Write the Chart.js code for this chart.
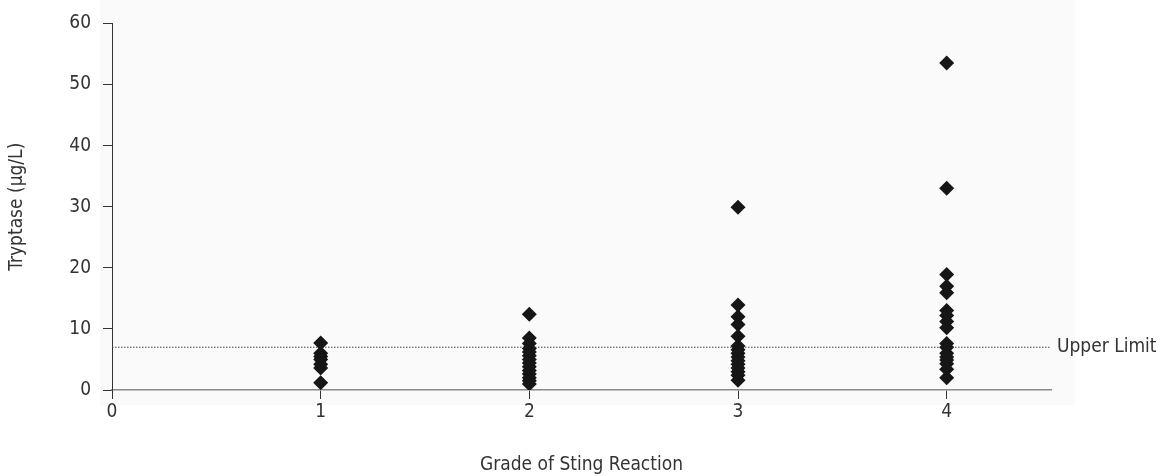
<!DOCTYPE html>
<html>
<head>
<meta charset="utf-8">
<script src="https://cdn.jsdelivr.net/npm/chart.js@4"></script>
<style>
  html, body { margin: 0; padding: 0; background: #fff; }
  #wrap { width: 1162px; height: 476px; position: relative; }
</style>
</head>
<body>
<div id="wrap"><canvas id="myChart"></canvas></div>
<script>
const grades = [1, 2, 3, 4];
// tryptase values read per grade
const grade1 = [7.7, 6.0, 5.5, 5.0, 4.2, 3.6, 1.2];
const grade2 = [12.4, 8.5, 7.6, 6.8, 6.2, 5.6, 5.0, 4.4, 3.8, 3.2, 2.6, 2.0, 1.5, 1.0];
const grade3 = [29.9, 13.9, 12.0, 10.7, 8.8, 7.2, 6.6, 6.0, 5.4, 4.8, 4.2, 3.6, 3.0, 2.4, 1.6];
const grade4 = [53.5, 33.0, 18.9, 17.0, 15.9, 13.0, 12.2, 11.2, 10.2, 7.6, 7.0, 6.0, 5.4, 4.9, 4.3, 3.4, 2.0];
const upperLimit = 7;
const yTicks = [0, 10, 20, 30, 40, 50, 60];
const xTicks = [0, 1, 2, 3, 4];

const FONT = "'DejaVu Sans Condensed', 'Liberation Sans Narrow', sans-serif";
const INK = "#333";

const points = [];
[grade1, grade2, grade3, grade4].forEach((vals, i) => {
  vals.forEach((v) => points.push({ x: grades[i], y: v }));
});

// faint panel behind the plot + "Upper Limit" text
const extras = {
  id: "extras",
  beforeDraw(chart) {
    const c = chart.ctx;
    c.save();
    c.fillStyle = "#fafafa";
    c.fillRect(100, 0, 975, 405);
    c.restore();
  },
  afterDatasetsDraw(chart) {
    const c = chart.ctx;
    const y = chart.scales.y.getPixelForValue(upperLimit);
    const x = chart.scales.x.getPixelForValue(4.5);
    c.save();
    c.font = "19px " + FONT;
    c.fillStyle = INK;
    c.textBaseline = "middle";
    c.fillText("Upper Limit", x + 6, y);
    c.restore();
  },
};

const ctx = document.getElementById("myChart").getContext("2d");

const config = {
  type: "scatter",
  data: {
    datasets: [
      {
        // measured tryptase
        data: points,
        pointStyle: "rectRot",
        radius: 7.5,
        hoverRadius: 7.5,
        backgroundColor: "#161616",
        borderColor: "#161616",
        borderWidth: 0,
      },
      {
        // upper limit reference line
        type: "line",
        data: [
          { x: 0, y: upperLimit },
          { x: 4.5, y: upperLimit },
        ],
        borderColor: "#444",
        borderWidth: 1,
        borderDash: [1.5, 1.5],
        pointRadius: 0,
        fill: false,
      },
    ],
  },
  options: {
    responsive: true,
    maintainAspectRatio: false,
    animation: false,
    layout: { padding: { top: 22, right: 111, bottom: 0, left: 0 } },
    plugins: { legend: { display: false }, tooltip: { enabled: false } },
    scales: {
      x: {
        type: "linear",
        min: 0,
        max: 4.5,
        afterBuildTicks: (axis) => {
          axis.ticks = xTicks.map((v) => ({ value: v }));
        },
        afterFit: (axis) => {
          axis.height = 86;
        },
        grid: { drawOnChartArea: false, drawTicks: true, tickLength: 9, color: INK },
        border: { color: "#8a8a8a", width: 1.5 },
        ticks: { color: INK, font: { family: FONT, size: 19 }, padding: 2 },
        title: {
          display: true,
          text: "Grade of Sting Reaction",
          color: INK,
          font: { family: FONT, size: 19 },
          padding: { top: 28, bottom: 0 },
        },
      },
      y: {
        min: 0,
        max: 60,
        afterBuildTicks: (axis) => {
          axis.ticks = yTicks.map((v) => ({ value: v }));
        },
        afterFit: (axis) => {
          axis.width = 112;
        },
        grid: { drawOnChartArea: false, drawTicks: true, tickLength: 9, color: INK },
        border: { color: INK, width: 1 },
        ticks: { color: INK, font: { family: FONT, size: 19 }, padding: 12 },
        title: {
          display: true,
          text: "Tryptase (µg/L)",
          color: INK,
          font: { family: FONT, size: 19 },
          padding: { top: 6, bottom: 8 },
        },
      },
    },
  },
  plugins: [extras],
};

const myChart = new Chart(ctx, config);
</script>
</body>
</html>
